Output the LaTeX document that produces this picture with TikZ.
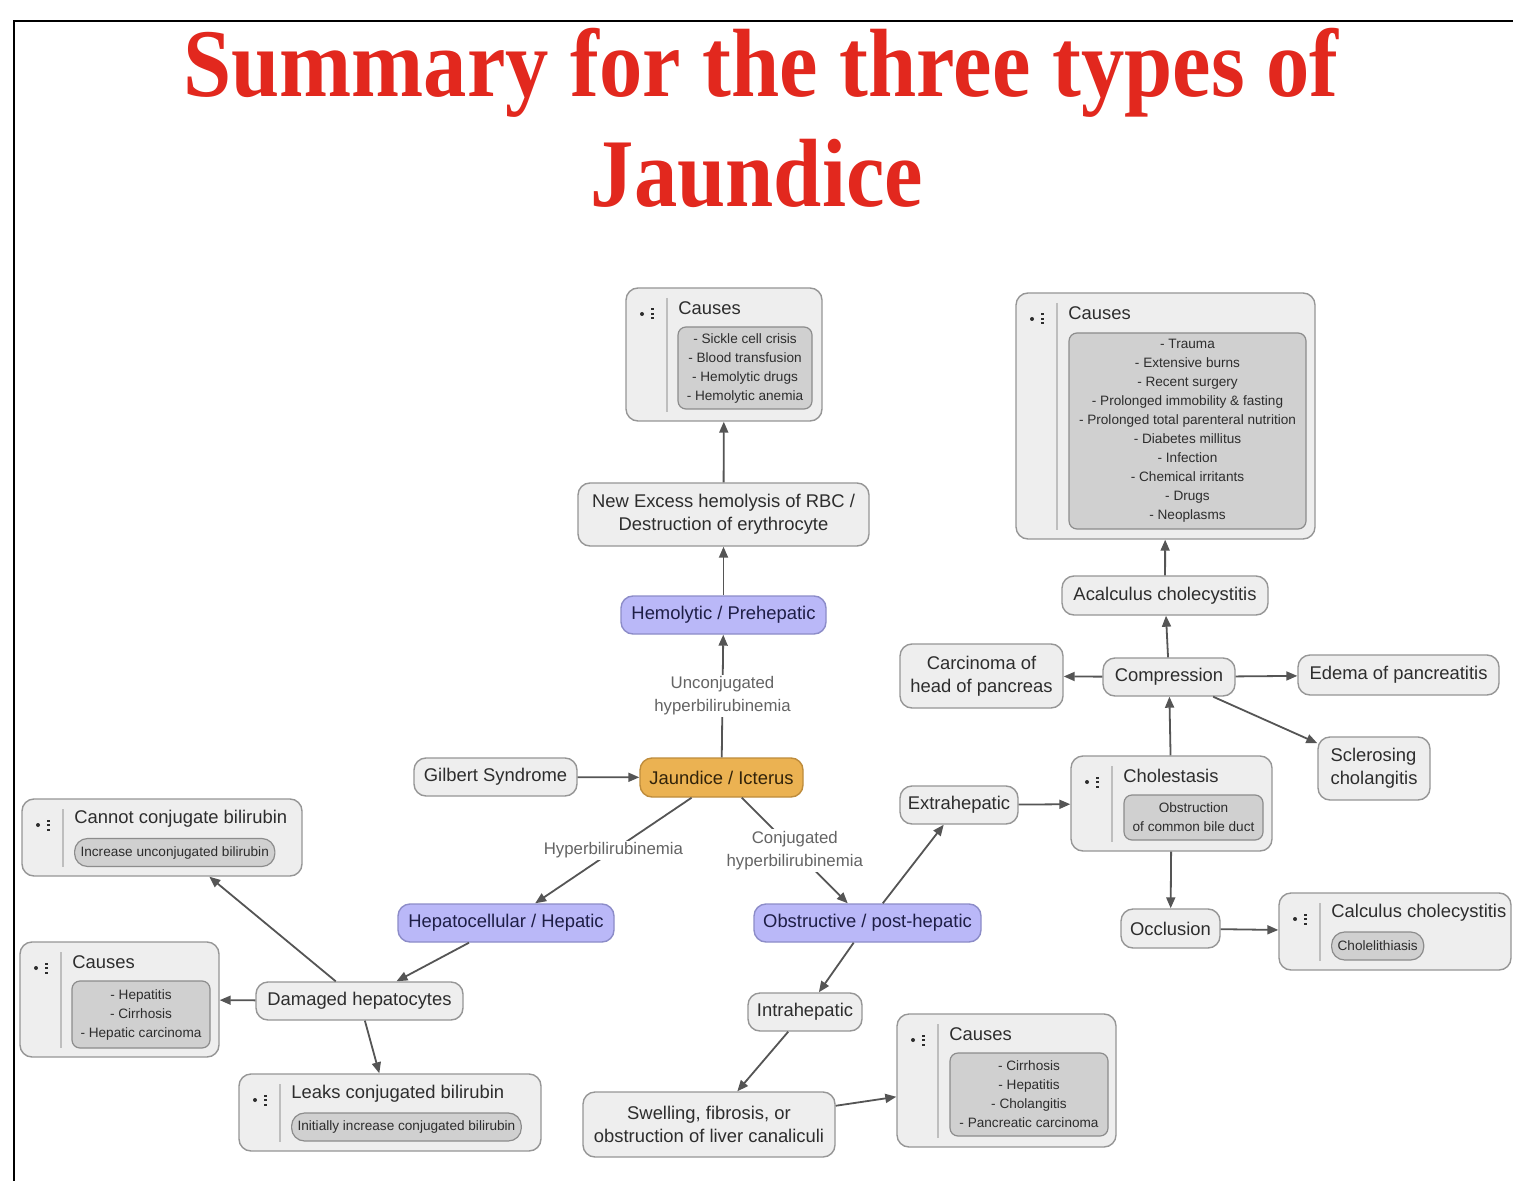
\documentclass[tikz,border=0pt]{standalone}
\usepackage{fontspec}
\setmainfont{Liberation Sans}
\newfontfamily\titlefont{Liberation Serif}
\usetikzlibrary{arrows.meta,fit}

\definecolor{boxfill}{RGB}{238,238,238}
\definecolor{boxline}{RGB}{150,150,150}
\definecolor{innerfill}{RGB}{208,208,208}
\definecolor{innerline}{RGB}{140,140,140}
\definecolor{txt}{RGB}{45,45,45}
\definecolor{lbltxt}{RGB}{100,100,100}
\definecolor{arrc}{RGB}{85,85,85}
\definecolor{purp}{RGB}{186,184,248}
\definecolor{purpline}{RGB}{140,140,200}
\definecolor{purptxt}{RGB}{30,30,70}
\definecolor{orng}{RGB}{235,178,82}
\definecolor{orngline}{RGB}{190,140,60}
\definecolor{orngtxt}{RGB}{50,35,10}
\definecolor{titlered}{RGB}{226,40,30}
\definecolor{divc}{RGB}{190,190,190}

\tikzset{
 pill/.style={draw=boxline, fill=boxfill, line width=0.7pt, rounded corners=6pt, inner sep=0pt, text=txt, font=\fontsize{9.2}{11.5}\selectfont, align=center},
 bigbox/.style={draw=boxline, fill=boxfill, line width=0.7pt, rounded corners=6pt, inner sep=0pt},
 innerbox/.style={draw=innerline, fill=innerfill, line width=0.6pt, rounded corners=4pt, inner sep=0pt},
 innertxt/.style={inner sep=0pt, text=txt, font=\fontsize{6.8}{9.5}\selectfont, align=center},
 innerpill/.style={draw=innerline, fill=innerfill, line width=0.6pt, rounded corners=6.5pt, inner xsep=3pt, inner ysep=0pt, minimum height=14pt, text=txt, font=\fontsize{6.8}{9.5}\selectfont},
 boxtitle/.style={anchor=west, inner sep=0pt, text=txt, font=\fontsize{9.2}{11}\selectfont},
 purpnode/.style={pill, fill=purp, draw=purpline, text=purptxt},
 orngnode/.style={pill, fill=orng, draw=orngline, text=orngtxt},
 lbl/.style={text=lbltxt, font=\fontsize{8.4}{11.5}\selectfont, align=center, fill=white, inner sep=1pt},
 arr/.style={draw=arrc, line width=0.9pt, -{Triangle[length=5.5pt,width=4.5pt]}},
 divider/.style={draw=divc, line width=0.8pt},
 iconc/.style={fill=txt},
 titlestyle/.style={text=titlered, font=\titlefont\bfseries\fontsize{43.3}{50}\selectfont, anchor=base, inner sep=0pt},
}

\newcommand{\cmbox}[6]{%
 \node[bigbox, fit={(#2,#3)(#4,#5)}] (#1) {};
 \fill[iconc] ({#2+16},{#3+26}) circle (1pt);
 \foreach \k in {-4.5,0,4.5} {\fill[iconc] ({#2+24.5},{#3+26+\k-1}) rectangle ({#2+27.5},{#3+26+\k+1});}
 \draw[divider] ({#2+41},{#3+10}) -- ({#2+41},{#5-9});
 \node[boxtitle] (#1t) at ({#2+52},{#3+20}) {#6};
}
\newcommand{\cminner}[6]{%
 \node[innerbox, fit={(#2,#3)(#4,#5)}] (#1) {};
 \node[innertxt] (#1x) at (#1.center) {#6};
}

\begin{document}
\begin{tikzpicture}[x=0.5pt,y=-0.5pt]
\useasboundingbox (0,0) rectangle (1513,1181);
\fill[white] (0,0) rectangle (1513,1181);
\draw[line width=1.3pt] (1513,21) -- (14,21) -- (14,1181);

\node[titlestyle] (title1) at (761,97) {\scalebox{1}[1.12]{Summary for the three types of}};
\node[titlestyle] (title2) at (757,207) {\scalebox{1}[1.12]{Jaundice}};

% simple nodes
\node[pill, minimum width=145.5pt, minimum height=31.5pt] (excess) at (723.5,514.5) {New Excess hemolysis of RBC /\\Destruction of erythrocyte};
\node[purpnode, minimum width=102.5pt, minimum height=19pt] (hemo) at (723.5,615) {Hemolytic / Prehepatic};
\node[orngnode, minimum width=81.5pt, minimum height=19.5pt] (jaund) at (721.5,777.5) {Jaundice / Icterus};
\node[pill, minimum width=81.5pt, minimum height=19pt] (gilbert) at (495.5,777) {Gilbert Syndrome};
\node[purpnode, minimum width=108pt, minimum height=19pt] (hepato) at (506,923) {Hepatocellular / Hepatic};
\node[purpnode, minimum width=113.5pt, minimum height=19pt] (obstr) at (867.5,923) {Obstructive / post-hepatic};
\node[pill, minimum width=103.5pt, minimum height=19pt] (damaged) at (359.5,1001) {Damaged hepatocytes};
\node[pill, minimum width=57pt, minimum height=19pt] (intra) at (805,1012) {Intrahepatic};
\node[pill, minimum width=126pt, minimum height=32.5pt] (swell) at (709,1124.5) {Swelling, fibrosis, or\\obstruction of liver canaliculi};
\node[pill, minimum width=59pt, minimum height=19pt] (extra) at (959,805) {Extrahepatic};
\node[pill, minimum width=49.5pt, minimum height=19.5pt] (occl) at (1170.5,928.5) {Occlusion};
\node[pill, minimum width=66pt, minimum height=19pt] (compr) at (1169,677) {Compression};
\node[pill, minimum width=81.5pt, minimum height=32pt] (carc) at (981.5,676) {Carcinoma of\\head of pancreas};
\node[pill, minimum width=100.5pt, minimum height=20pt] (edema) at (1398.5,675) {Edema of pancreatitis};
\node[pill, minimum width=56pt, minimum height=31.5pt, align=left] (scler) at (1374,768.5) {Sclerosing\\cholangitis};
\node[pill, minimum width=103pt, minimum height=19.5pt] (acalc) at (1165,595.5) {Acalculus cholecystitis};

% composite boxes
\cmbox{causeA}{626}{288}{822}{421}{Causes}
\cminner{causeAi}{678}{327}{812}{409}{- Sickle cell crisis\\- Blood transfusion\\- Hemolytic drugs\\- Hemolytic anemia}

\cmbox{causeR}{1016}{293}{1315}{539}{Causes}
\cminner{causeRi}{1069}{333}{1306}{529}{- Trauma\\- Extensive burns\\- Recent surgery\\- Prolonged immobility \& fasting\\- Prolonged total parenteral nutrition\\- Diabetes millitus\\- Infection\\- Chemical irritants\\- Drugs\\- Neoplasms}

\cmbox{cannot}{22}{799}{302}{876}{Cannot conjugate bilirubin}
\node[innerpill, anchor=west] (cannoti) at (74,852.5) {Increase unconjugated bilirubin};

\cmbox{causeL}{20}{942}{219}{1057}{Causes}
\cminner{causeLi}{72}{981}{210}{1048}{- Hepatitis\\- Cirrhosis\\- Hepatic carcinoma}

\cmbox{leaks}{239}{1074}{541}{1151}{Leaks conjugated bilirubin}
\node[innerpill, anchor=west] (leaksi) at (291,1127) {Initially increase conjugated bilirubin};

\cmbox{causeB}{897}{1014}{1116}{1147}{Causes}
\cminner{causeBi}{950}{1053}{1108}{1136}{- Cirrhosis\\- Hepatitis\\- Cholangitis\\- Pancreatic carcinoma}

\cmbox{cholest}{1071}{756}{1272}{851}{Cholestasis}
\cminner{cholesti}{1124}{795}{1263}{840}{Obstruction\\of common bile duct}

\cmbox{calc}{1279}{893}{1511}{970}{Calculus cholecystitis}
\node[innerpill, anchor=west] (calci) at (1331,946) {Cholelithiasis};

% connectors
\draw[arr] (excess) -- (causeA);
\draw[arr] (hemo) -- (excess);
\draw[arr] (jaund) -- node[lbl]{Unconjugated\\hyperbilirubinemia} (hemo);
\draw[arr] (gilbert) -- (jaund);
\draw[arr] (jaund) -- node[lbl]{Hyperbilirubinemia} (hepato);
\draw[arr] (jaund) -- node[lbl]{Conjugated\\hyperbilirubinemia} (obstr);
\draw[arr] (hepato) -- (damaged);
\draw[arr] (damaged) -- (cannot);
\draw[arr] (damaged) -- (causeL);
\draw[arr] (damaged) -- (leaks);
\draw[arr] (obstr) -- (intra);
\draw[arr] (obstr) -- (extra);
\draw[arr] (intra) -- (swell);
\draw[arr] (swell) -- (causeB);
\draw[arr] (extra) -- (cholest);
\draw[arr] (cholest) -- (compr);
\draw[arr] (cholest) -- (occl);
\draw[arr] (occl) -- (calc);
\draw[arr] (compr) -- (acalc);
\draw[arr] (acalc) -- (causeR);
\draw[arr] (compr) -- (carc);
\draw[arr] (compr) -- (edema);
\draw[arr] (compr) -- (scler);
\end{tikzpicture}
\end{document}
